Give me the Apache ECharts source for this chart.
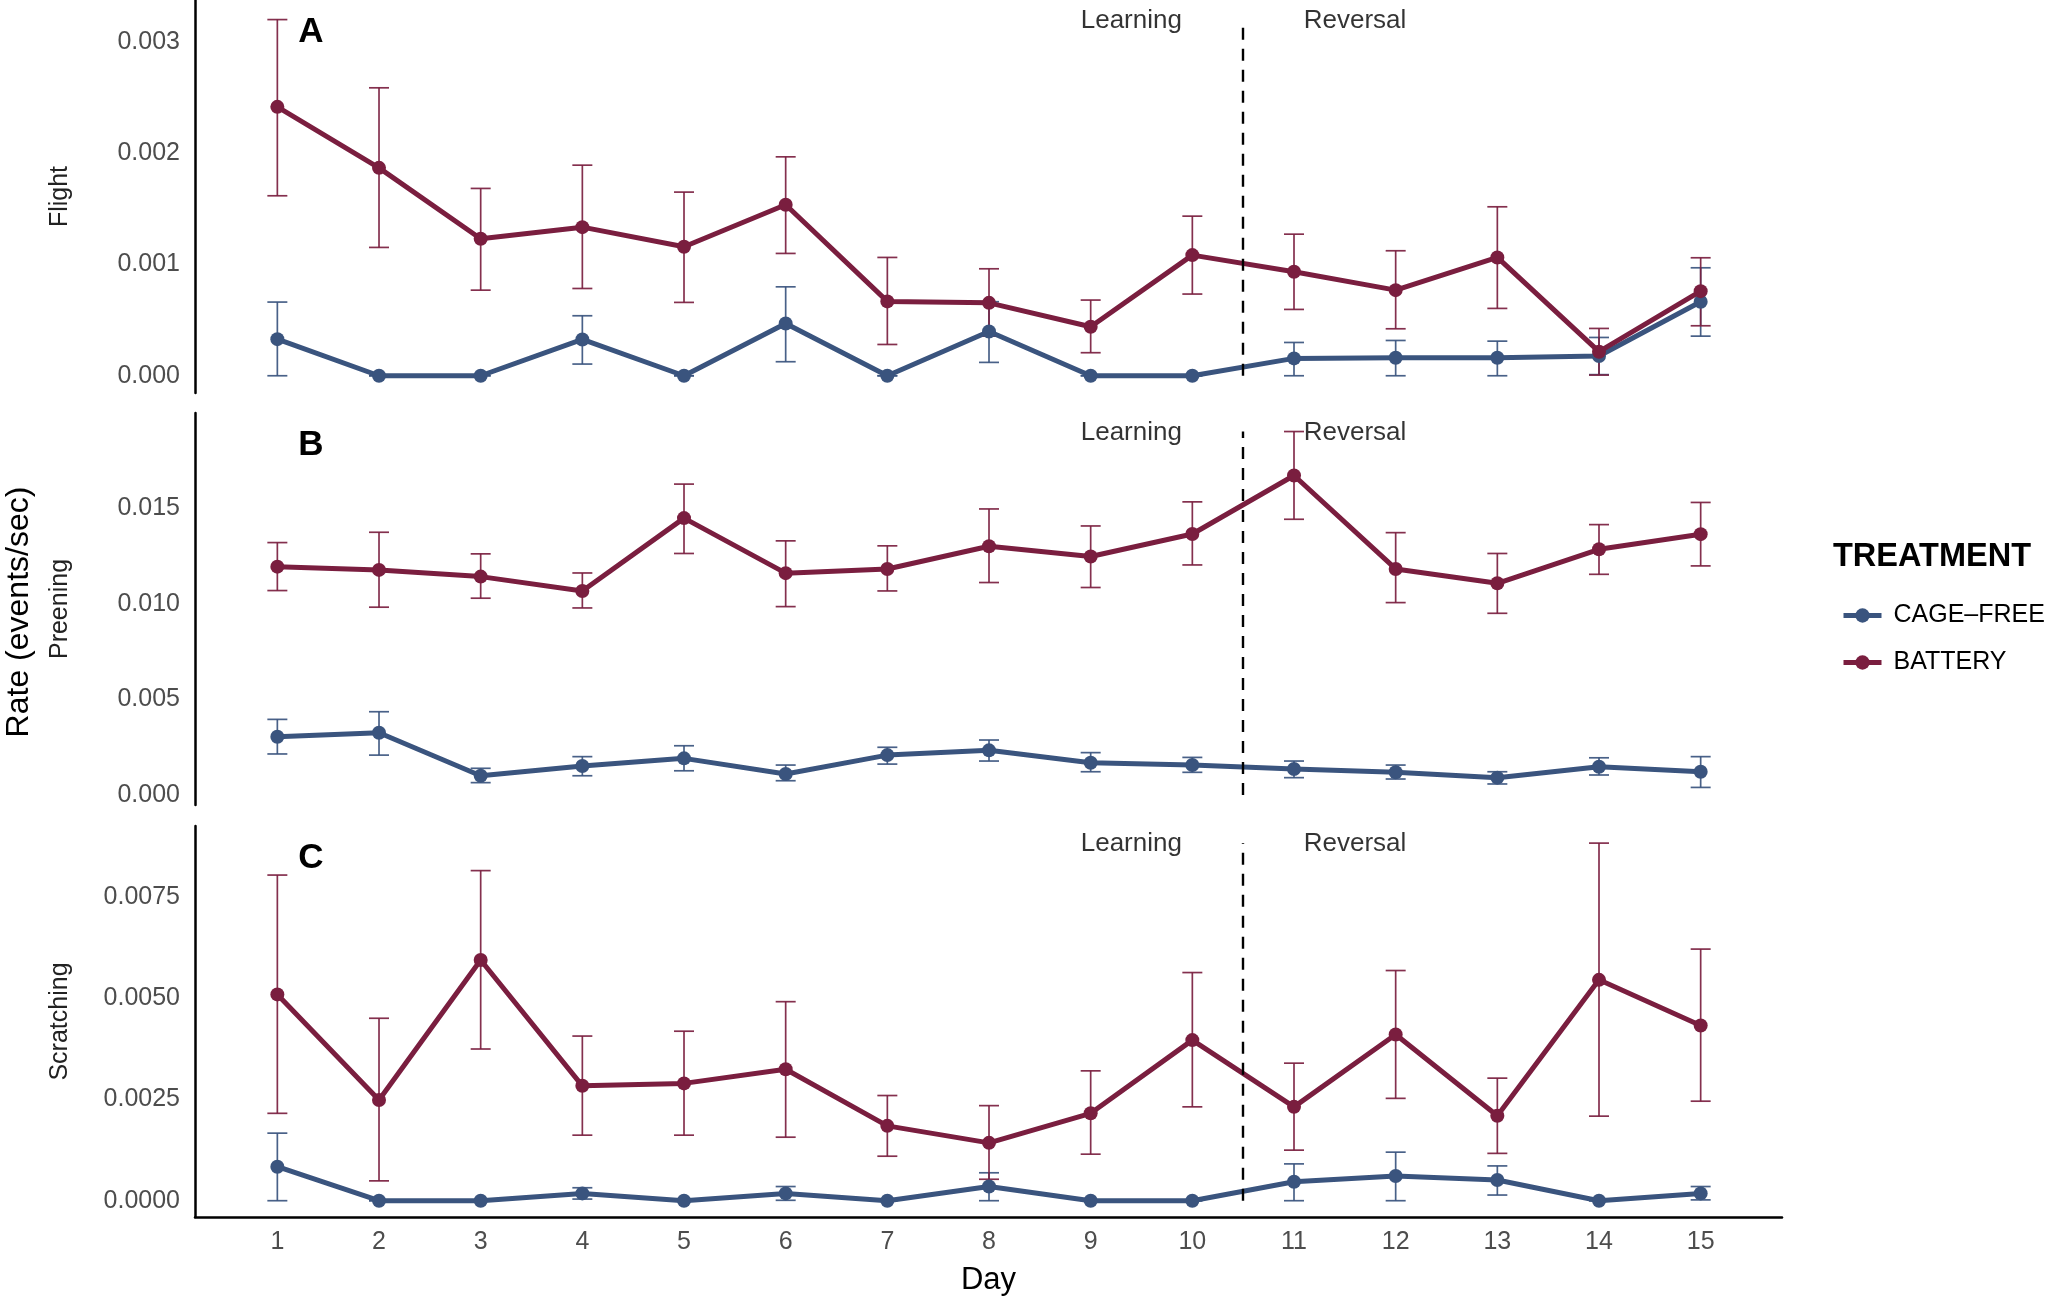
<!DOCTYPE html>
<html>
<head>
<meta charset="utf-8">
<script src="https://cdn.jsdelivr.net/npm/echarts@6/dist/echarts.min.js"></script>
<style>
  html, body { margin: 0; padding: 0; background: #fff; }
  #main { width: 2054px; height: 1308px; }
</style>
</head>
<body>
<div id="main"></div>
<script>
  // days and phase labels
  var days = [1, 2, 3, 4, 5, 6, 7, 8, 9, 10, 11, 12, 13, 14, 15];
  var phaseLabels = ["Learning", "Reversal"];
  var phaseX = [9.4, 11.6];
  var switchDay = 10.5;

  // A - Flight
  var flightBattery   = [0.002416, 0.001868, 0.001231, 0.001335, 0.001159, 0.001536, 0.000668, 0.000655, 0.000440, 0.001084, 0.000934, 0.000769, 0.001063, 0.000216, 0.000760];
  var flightBatteryHi = [0.003200, 0.002587, 0.001683, 0.001892, 0.001650, 0.001967, 0.001063, 0.000961, 0.000680, 0.001434, 0.001272, 0.001123, 0.001518, 0.000425, 0.001060];
  var flightBatteryLo = [0.001617, 0.001153, 0.000769, 0.000784, 0.000659, 0.001099, 0.000281, 0.000356, 0.000207, 0.000734, 0.000596, 0.000422, 0.000605, 0.000006, 0.000449];
  var flightCage   = [0.000329, 0, 0, 0.000326, 0, 0.000470, 0, 0.000398, 0, 0, 0.000156, 0.000162, 0.000162, 0.000177, 0.000665];
  var flightCageHi = [0.000662, 0, 0, 0.000539, 0, 0.000799, 0, 0.000665, 0, 0, 0.000299, 0.000317, 0.000311, 0.000344, 0.000970];
  var flightCageLo = [0.000000, 0, 0, 0.000105, 0, 0.000126, 0, 0.000120, 0, 0, 0.000000, 0.000000, 0.000000, 0.000010, 0.000356];

  // B - Preening
  var preenBattery   = [0.01195, 0.01178, 0.01143, 0.01068, 0.01449, 0.01161, 0.01183, 0.01302, 0.01248, 0.01366, 0.01672, 0.01183, 0.01108, 0.01286, 0.01365];
  var preenBatteryHi = [0.01321, 0.01375, 0.01262, 0.01162, 0.01627, 0.01330, 0.01304, 0.01497, 0.01408, 0.01534, 0.01902, 0.01373, 0.01264, 0.01415, 0.01531];
  var preenBatteryLo = [0.01070, 0.00983, 0.01030, 0.00979, 0.01264, 0.00986, 0.01068, 0.01112, 0.01086, 0.01204, 0.01443, 0.01007, 0.00951, 0.01155, 0.01199];
  var preenCage   = [0.00305, 0.00326, 0.00101, 0.00152, 0.00192, 0.00110, 0.00209, 0.00234, 0.00169, 0.00157, 0.00136, 0.00119, 0.00091, 0.00148, 0.00122];
  var preenCageHi = [0.00396, 0.00436, 0.00140, 0.00201, 0.00258, 0.00157, 0.00250, 0.00288, 0.00222, 0.00197, 0.00178, 0.00157, 0.00122, 0.00195, 0.00201];
  var preenCageLo = [0.00215, 0.00209, 0.00065, 0.00101, 0.00127, 0.00075, 0.00162, 0.00178, 0.00122, 0.00119, 0.00091, 0.00084, 0.00058, 0.00105, 0.00040];

  // C - Scratching
  var scratchBattery   = [0.00510, 0.00249, 0.00595, 0.00284, 0.00290, 0.00325, 0.00185, 0.00143, 0.00216, 0.00397, 0.00232, 0.00411, 0.00210, 0.00546, 0.00433];
  var scratchBatteryHi = [0.00805, 0.00451, 0.00816, 0.00407, 0.00419, 0.00492, 0.00260, 0.00235, 0.00321, 0.00564, 0.00340, 0.00569, 0.00303, 0.00884, 0.00622];
  var scratchBatteryLo = [0.00216, 0.00049, 0.00375, 0.00162, 0.00162, 0.00157, 0.00110, 0.00053, 0.00115, 0.00232, 0.00125, 0.00253, 0.00117, 0.00209, 0.00246];
  var scratchCage   = [0.00084, 0, 0, 0.00018, 0, 0.00018, 0, 0.00035, 0, 0, 0.00047, 0.00061, 0.00051, 0, 0.00018];
  var scratchCageHi = [0.00167, 0, 0, 0.00032, 0, 0.00035, 0, 0.00069, 0, 0, 0.00091, 0.00120, 0.00086, 0, 0.00035];
  var scratchCageLo = [0.00000, 0, 0, 0.00004, 0, 0.00001, 0, 0.00000, 0, 0, 0.00000, 0.00000, 0.00014, 0, 0.00002];

  var CAGE = "CAGE–FREE", BATT = "BATTERY";
  var cageColor = "#3a547e", battColor = "#7a1e3f";
  var font = "Liberation Sans, Arial, Helvetica, sans-serif";

  var panels = [
    { name: "Flight", letter: "A", top: 0, height: 393, min: -0.000155, max: 0.003376, ticks: [0, 0.001, 0.002, 0.003], dec: 3,
      batt: flightBattery, battHi: flightBatteryHi, battLo: flightBatteryLo, cage: flightCage, cageHi: flightCageHi, cageLo: flightCageLo },
    { name: "Preening", letter: "B", top: 413, height: 392, min: -0.00052, max: 0.01999, ticks: [0, 0.005, 0.010, 0.015], dec: 3,
      batt: preenBattery, battHi: preenBatteryHi, battLo: preenBatteryLo, cage: preenCage, cageHi: preenCageHi, cageLo: preenCageLo },
    { name: "Scratching", letter: "C", top: 826, height: 391, min: -0.000403, max: 0.009263, ticks: [0, 0.0025, 0.005, 0.0075], dec: 4,
      batt: scratchBattery, battHi: scratchBatteryHi, battLo: scratchBatteryLo, cage: scratchCage, cageHi: scratchCageHi, cageLo: scratchCageLo }
  ];

  function renderErr(params, api) {
    var x = api.value(0);
    var lo = api.coord([x, api.value(1)]);
    var hi = api.coord([x, api.value(2)]);
    var hw = 10;
    var style = { stroke: api.visual("color"), lineWidth: 1.7, opacity: 0.92 };
    return {
      type: "group",
      children: [
        { type: "line", shape: { x1: hi[0], y1: hi[1], x2: lo[0], y2: lo[1] }, style: style },
        { type: "line", shape: { x1: hi[0] - hw, y1: hi[1], x2: hi[0] + hw, y2: hi[1] }, style: style },
        { type: "line", shape: { x1: lo[0] - hw, y1: lo[1], x2: lo[0] + hw, y2: lo[1] }, style: style }
      ]
    };
  }

  function pairs(vals) {
    return days.map(function (d, i) { return [d, vals[i]]; });
  }
  function triples(lo, hi) {
    return days.map(function (d, i) { return [d, lo[i], hi[i]]; });
  }

  var grid = [], xAxis = [], yAxis = [], series = [], graphic = [];

  panels.forEach(function (p, k) {
    var last = k === panels.length - 1;
    var ymax = Math.max.apply(null, p.battHi.concat(p.cageHi));
    grid.push({ left: 195, right: 272, top: p.top, height: p.height });
    xAxis.push({
      type: "value", gridIndex: k, min: 0.19, max: 15.8,
      name: last ? "Day" : "", nameLocation: "middle", nameGap: 48,
      nameTextStyle: { fontSize: 31, color: "#000", fontFamily: font },
      axisLine: { show: last, onZero: false, lineStyle: { color: "#000", width: 2.5 } },
      axisTick: { show: false },
      splitLine: { show: false },
      axisLabel: { show: last, customValues: days, margin: 13, fontSize: 25, color: "#4d4d4d", fontFamily: font }
    });
    yAxis.push({
      type: "value", gridIndex: k, min: p.min, max: p.max,
      name: p.name, nameLocation: "middle", nameGap: 122, nameRotate: 90,
      nameTextStyle: { fontSize: 25, color: "#222", fontFamily: font },
      axisLine: { show: true, onZero: false, lineStyle: { color: "#000", width: 2.5 } },
      axisTick: { show: false },
      splitLine: { show: false },
      axisLabel: {
        customValues: p.ticks, margin: 15, fontSize: 25, color: "#4d4d4d", fontFamily: font,
        formatter: function (v) { return v.toFixed(p.dec); }
      }
    });

    series.push({
      type: "custom", name: "cage-err-" + k, xAxisIndex: k, yAxisIndex: k,
      itemStyle: { color: cageColor }, renderItem: renderErr,
      encode: { x: 0, y: [1, 2] }, data: triples(p.cageLo, p.cageHi), z: 2
    });
    series.push({
      type: "custom", name: "batt-err-" + k, xAxisIndex: k, yAxisIndex: k,
      itemStyle: { color: battColor }, renderItem: renderErr,
      encode: { x: 0, y: [1, 2] }, data: triples(p.battLo, p.battHi), z: 2
    });
    series.push({
      type: "line", name: CAGE, xAxisIndex: k, yAxisIndex: k,
      data: pairs(p.cage), symbol: "circle", symbolSize: 14,
      itemStyle: { color: cageColor }, lineStyle: { color: cageColor, width: 5 }, z: 3,
      markLine: {
        silent: true, symbol: ["none", "none"], label: { show: false },
        lineStyle: { color: "#000", type: [12, 9], width: 2.4 },
        data: [[{ coord: [switchDay, 0] }, { coord: [switchDay, ymax] }]]
      }
    });
    series.push({
      type: "line", name: BATT, xAxisIndex: k, yAxisIndex: k,
      data: pairs(p.batt), symbol: "circle", symbolSize: 14,
      itemStyle: { color: battColor }, lineStyle: { color: battColor, width: 5 }, z: 4
    });
    series.push({
      type: "scatter", name: "phase-" + k, xAxisIndex: k, yAxisIndex: k,
      symbolSize: 0, silent: true, z: 5,
      data: phaseX.map(function (x) { return [x, ymax]; }),
      label: {
        show: true, position: "inside", offset: [0, 1],
        formatter: function (q) { return phaseLabels[q.dataIndex]; },
        fontSize: 26, color: "#000", fontFamily: font
      }
    });

    graphic.push({
      type: "text", x: 311, y: p.top + 32,
      style: { text: p.letter, fontSize: 35, fontWeight: "bold", fontFamily: font, fill: "#000", align: "center", verticalAlign: "middle" }
    });
  });

  graphic.push({
    type: "text", x: 19, y: 612, rotation: Math.PI / 2,
    style: { text: "Rate (events/sec)", fontSize: 32, fontFamily: font, fill: "#000", align: "center", verticalAlign: "middle" }
  });
  graphic.push({
    type: "text", x: 1833, y: 557,
    style: { text: "TREATMENT", fontSize: 32.5, fontWeight: "bold", fontFamily: font, fill: "#000", align: "left", verticalAlign: "middle" }
  });

  var chart = echarts.init(document.getElementById("main"));
  chart.setOption({
    animation: false,
    backgroundColor: "#fff",
    grid: grid,
    xAxis: xAxis,
    yAxis: yAxis,
    legend: {
      data: [CAGE, BATT], orient: "vertical", left: 1836, top: 598,
      itemWidth: 38, itemHeight: 18, itemGap: 22,
      lineStyle: { width: 5 },
      textStyle: { fontSize: 25, color: "#000", fontFamily: font, padding: [0, 0, 0, 7] }
    },
    graphic: graphic,
    series: series
  });
</script>
</body>
</html>
